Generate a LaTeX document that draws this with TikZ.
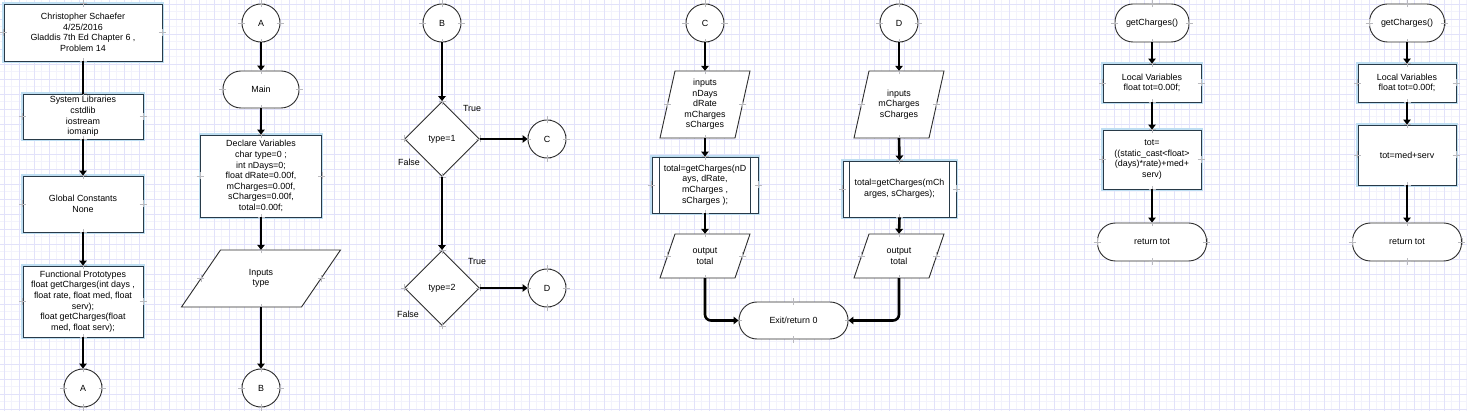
\documentclass[tikz,border=0pt]{standalone}
\usepackage{fontspec}
\setmainfont{Liberation Sans}
\usetikzlibrary{arrows.meta,shapes.geometric}
\pgfdeclarelayer{fg}
\pgfsetlayers{main,fg}
\definecolor{gridmaj}{RGB}{226,226,250}
\definecolor{gridmin}{RGB}{243,243,252}
\definecolor{boxedge}{RGB}{40,58,72}
\definecolor{glow}{RGB}{190,222,242}
\definecolor{shapeedge}{RGB}{45,45,45}
\definecolor{cpcol}{RGB}{185,185,190}
\newcommand{\txtfont}{\fontsize{8.9}{10.6}\selectfont}
\tikzset{
  base/.style={font=\txtfont, align=center, inner sep=0pt, fill=white},
  procbox/.style={base, rectangle, draw=boxedge, line width=0.9pt,
    preaction={draw=glow, line width=3.2pt}},
  conn/.style={base, circle, draw=shapeedge, line width=0.9pt, minimum size=38pt},
  term/.style={base, rectangle, rounded corners=18pt, draw=shapeedge, line width=0.9pt},
  decision/.style={base, diamond, draw=shapeedge, line width=0.9pt,
    minimum width=75pt, minimum height=75pt},
  ioshape/.style={draw=shapeedge, line width=0.9pt, fill=white},
  iotext/.style={font=\txtfont, align=center, inner sep=0pt},
  flow/.style={line width=2.6pt, draw=black, -{Triangle[length=5pt,width=7.5pt]}},
  flowplain/.style={line width=2.6pt, draw=black},
  lbl/.style={font=\txtfont, inner sep=0pt},
  cpline/.style={draw=cpcol, line width=0.5pt}
}
% name, cx, cy, edge width, height, skew, text
\newcommand{\myio}[7]{%
  \draw[ioshape] (#2-#4/2-#6/2, #3+#5/2) -- (#2+#4/2-#6/2, #3+#5/2)
     -- (#2+#4/2+#6/2, #3-#5/2) -- (#2-#4/2+#6/2, #3-#5/2) -- cycle;
  \node[iotext, minimum height=#5pt, minimum width=#4pt] (#1) at (#2,#3) {#7};}
% connection-point crosses at the four side anchors of a node
\newcommand{\cpts}[1]{%
  \foreach \an in {north,south,east,west} {
    \draw[cpline] ([xshift=-3.5pt]#1.\an) -- ([xshift=3.5pt]#1.\an);
    \draw[cpline] ([yshift=-3.5pt]#1.\an) -- ([yshift=3.5pt]#1.\an);
  }}
\begin{document}
\begin{tikzpicture}[x=1pt, y=-1pt]
\useasboundingbox (0,0) rectangle (1467,411);
\fill[white] (0,0) rectangle (1467,411);
% grid
\foreach \i in {0,...,97} {
  \draw[gridmin, line width=0.6pt] (11.5+15*\i,0) -- (11.5+15*\i,411);
}
\foreach \i in {0,...,27} {
  \draw[gridmin, line width=0.6pt] (0,11.5+15*\i) -- (1467,11.5+15*\i);
}
\foreach \i in {0,...,97} {
  \draw[gridmaj, line width=0.8pt] (4+15*\i,0) -- (4+15*\i,411);
}
\foreach \i in {0,...,27} {
  \draw[gridmaj, line width=0.8pt] (0,4+15*\i) -- (1467,4+15*\i);
}

% ---------- column 1 ----------
\node[procbox, minimum width=158pt, minimum height=57pt] (hdr) at (83,32.5)
  {Christopher Schaefer\\4/25/2016\\Gladdis 7th Ed Chapter 6 ,\\Problem 14};
\node[procbox, minimum width=120pt, minimum height=45pt] (libs) at (83,116.5)
  {System Libraries\\cstdlib\\iostream\\iomanip};
\node[procbox, minimum width=120pt, minimum height=56pt] (glob) at (83,204)
  {Global Constants\\None};
\node[procbox, minimum width=120pt, minimum height=71pt] (proto) at (83,301.5)
  {Functional Prototypes\\float getCharges(int days ,\\float rate, float med, float\\serv);\\float getCharges(float\\med, float serv);};
\node[conn] (ca1) at (83,388) {A};

% ---------- column 2 ----------
\node[conn] (ca2) at (261,23) {A};
\node[term, minimum width=76pt, minimum height=37pt] (main) at (261,89.5) {Main};
\node[procbox, minimum width=121pt, minimum height=82pt] (decl) at (261,176)
  {Declare Variables\\char type=0 ;\\int nDays=0;\\float dRate=0.00f,\\mCharges=0.00f,\\sCharges=0.00f,\\total=0.00f;};
\myio{inp}{261}{278.5}{120}{57}{39}{Inputs\\type}
\node[conn] (cb1) at (261,388) {B};

% ---------- column 3 ----------
\node[conn] (cb2) at (442,23) {B};
\node[decision] (d1) at (442,139) {type=1};
\node[conn] (cc1) at (547,139) {C};
\node[decision] (d2) at (442,288) {type=2};
\node[conn] (cd1) at (547,288) {D};
\node[lbl] (t1) at (472,108) {True};
\node[lbl] (f1) at (409,162) {False};
\node[lbl] (t2) at (477,261) {True};
\node[lbl] (f2) at (408,314) {False};

% ---------- column 4 ----------
\node[conn] (cc2) at (705,23) {C};
\myio{in1}{705}{104.5}{75}{67}{15}{inputs\\nDays\\dRate\\mCharges\\sCharges}
\node[procbox, minimum width=106pt, minimum height=56pt] (pp1) at (705,185)
  {total=getCharges(nD\\ays, dRate,\\mCharges ,\\sCharges );};
\draw[boxedge, line width=0.9pt] ([xshift=8pt]pp1.north west) -- ([xshift=8pt]pp1.south west);
\draw[boxedge, line width=0.9pt] ([xshift=-8pt]pp1.north east) -- ([xshift=-8pt]pp1.south east);
\myio{out1}{705}{256}{75}{44}{15}{output\\total}

% ---------- column 5 ----------
\node[conn] (cd2) at (899,23) {D};
\myio{in2}{899}{104.5}{75}{67}{15}{inputs\\mCharges\\sCharges}
\node[procbox, minimum width=113pt, minimum height=56pt] (pp2) at (899.5,189)
  {total=getCharges(mCh\\arges, sCharges);};
\draw[boxedge, line width=0.9pt] ([xshift=7pt]pp2.north west) -- ([xshift=7pt]pp2.south west);
\draw[boxedge, line width=0.9pt] ([xshift=-7pt]pp2.north east) -- ([xshift=-7pt]pp2.south east);
\myio{out2}{899}{256}{75}{44}{15}{output\\total}

% exit
\node[term, minimum width=109pt, minimum height=37pt] (exit) at (793.5,320.5) {Exit/return 0};

% ---------- column 6 ----------
\node[term, minimum width=74pt, minimum height=38pt] (gc1) at (1152,23) {getCharges()};
\node[procbox, minimum width=98pt, minimum height=38pt] (lv1) at (1152,83)
  {Local Variables\\float tot=0.00f;};
\node[procbox, minimum width=98pt, minimum height=59pt] (calc1) at (1152,159.5)
  {tot=\\((static\_cast<float>\\(days)*rate)+med+\\serv)};
\node[term, minimum width=109pt, minimum height=38pt] (ret1) at (1152,242) {return tot};

% ---------- column 7 ----------
\node[term, minimum width=75pt, minimum height=38pt] (gc2) at (1407,23) {getCharges()};
\node[procbox, minimum width=98pt, minimum height=38pt] (lv2) at (1407,83)
  {Local Variables\\float tot=0.00f;};
\node[procbox, minimum width=98pt, minimum height=60pt] (calc2) at (1407,155)
  {tot=med+serv};
\node[term, minimum width=109pt, minimum height=38pt] (ret2) at (1407,242) {return tot};

% connection points (under the connectors)
\foreach \nd in {hdr,libs,glob,proto,ca1,ca2,main,decl,inp,cb1,cb2,d1,cc1,d2,cd1,
  cc2,in1,pp1,out1,cd2,in2,pp2,out2,exit,gc1,lv1,calc1,ret1,gc2,lv2,calc2,ret2} {
  \cpts{\nd}
}

% ---------- connectors ----------
\begin{pgfonlayer}{fg}
\draw[flowplain] (hdr.south) -- (libs.north);
\draw[flow] (libs.south) -- (glob.north);
\draw[flow] (glob.south) -- (proto.north);
\draw[flow] (proto.south) -- (ca1.north);
\draw[flow] (ca2.south) -- (main.north);
\draw[flow] (main.south) -- (decl.north);
\draw[flow] (decl.south) -- (inp.north);
\draw[flow] (inp.south) -- (cb1.north);
\draw[flow] (cb2.south) -- (d1.north);
\draw[flow] (d1.east) -- (cc1.west);
\draw[flow] (d1.south) -- (d2.north);
\draw[flow] (d2.east) -- (cd1.west);
\draw[flow] (cc2.south) -- (in1.north);
\draw[flow] (in1.south) -- (pp1.north);
\draw[flow] (pp1.south) -- (out1.north);
\draw[flow] (cd2.south) -- (in2.north);
\draw[flow] (in2.south) -- (pp2.north);
\draw[flow] (pp2.south) -- (out2.north);
\draw[flow, rounded corners=6pt] (out1.south) |- (exit.west);
\draw[flow, rounded corners=6pt] (out2.south) |- (exit.east);
\draw[flow] (gc1.south) -- (lv1.north);
\draw[flow] (lv1.south) -- (calc1.north);
\draw[flow] (calc1.south) -- (ret1.north);
\draw[flow] (gc2.south) -- (lv2.north);
\draw[flow] (lv2.south) -- (calc2.north);
\draw[flow] (calc2.south) -- (ret2.north);
\end{pgfonlayer}
\end{tikzpicture}
\end{document}
